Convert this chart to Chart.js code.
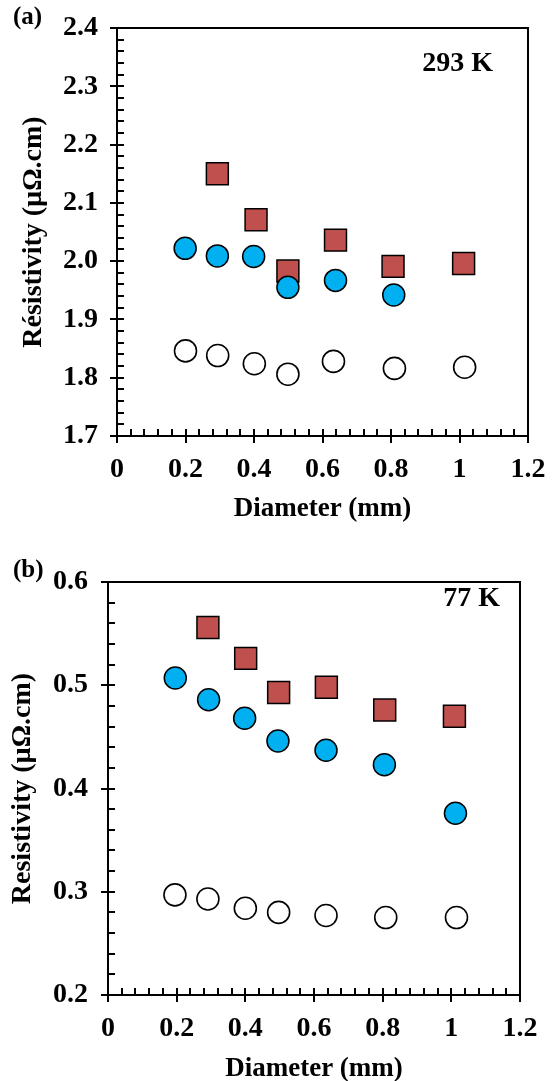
<!DOCTYPE html>
<html>
<head>
<meta charset="utf-8">
<script src="https://cdn.jsdelivr.net/npm/chart.js@4/dist/chart.umd.min.js"></script>
<style>
  html, body { margin: 0; padding: 0; background: #fff; }
  .wrap { position: absolute; left: 0; width: 553px; }
  canvas { display: block; }
</style>
</head>
<body>
<div class="wrap" style="top:0;height:540px"><canvas id="chartA"></canvas></div>
<div class="wrap" style="top:540px;height:541px"><canvas id="chartB"></canvas></div>
<script>
// ---------- Data: panel (a) 293 K ----------
const a_sq_x   = [0.293, 0.406, 0.499, 0.638, 0.806, 1.012];
const a_sq_y   = [2.150, 2.071, 1.983, 2.036, 1.991, 1.996];
const a_fill_x = [0.199, 0.293, 0.399, 0.499, 0.638, 0.808];
const a_fill_y = [2.022, 2.009, 2.008, 1.955, 1.967, 1.942];
const a_open_x = [0.200, 0.294, 0.401, 0.499, 0.632, 0.810, 1.015];
const a_open_y = [1.846, 1.838, 1.824, 1.806, 1.828, 1.816, 1.818];

// ---------- Data: panel (b) 77 K ----------
const b_sq_x   = [0.291, 0.401, 0.497, 0.636, 0.806, 1.009];
const b_sq_y   = [0.556, 0.526, 0.493, 0.498, 0.476, 0.470];
const b_fill_x = [0.196, 0.293, 0.398, 0.495, 0.635, 0.805, 1.012];
const b_fill_y = [0.507, 0.486, 0.468, 0.446, 0.437, 0.423, 0.376];
const b_open_x = [0.195, 0.291, 0.400, 0.497, 0.635, 0.809, 1.015];
const b_open_y = [0.297, 0.293, 0.284, 0.280, 0.277, 0.275, 0.275];

// ---------- Tick labels ----------
const xTickValues = [0, 0.2, 0.4, 0.6, 0.8, 1.0, 1.2];
const xTickLabels = ['0', '0.2', '0.4', '0.6', '0.8', '1', '1.2'];
const aYTickValues = [1.7, 1.8, 1.9, 2.0, 2.1, 2.2, 2.3, 2.4];
const aYTickLabels = ['1.7', '1.8', '1.9', '2.0', '2.1', '2.2', '2.3', '2.4'];
const bYTickValues = [0.2, 0.3, 0.4, 0.5, 0.6];
const bYTickLabels = ['0.2', '0.3', '0.4', '0.5', '0.6'];

const xTitle = 'Diameter (mm)';
const aYTitle = 'Résistivity (µΩ.cm)';
const bYTitle = 'Resistivity (µΩ.cm)';

// ---------- Styling ----------
const FONT = "'Liberation Serif', 'Times New Roman', serif";
const RED = '#C0504D';
const BLUE = '#00B0F0';

function pts(xs, ys) { return xs.map((x, i) => ({ x: x, y: ys[i] })); }

function labelFor(values, labels) {
  return function (v) {
    for (let i = 0; i < values.length; i++) {
      if (Math.abs(v - values[i]) < 1e-6) return labels[i];
    }
    return '';
  };
}

function datasets(fx, fy, sx, sy, ox, oy) {
  return [
    { data: pts(fx, fy), pointStyle: 'circle', pointRadius: 11, backgroundColor: BLUE, borderColor: '#000', borderWidth: 1.5 },
    { data: pts(sx, sy), pointStyle: 'rect', pointRadius: 15.5, backgroundColor: RED, borderColor: '#000', borderWidth: 1.5 },
    { data: pts(ox, oy), pointStyle: 'circle', pointRadius: 11, backgroundColor: '#fff', borderColor: '#000', borderWidth: 1.6 }
  ];
}

const framePlugin = {
  id: 'frameTicks',
  beforeDatasetsDraw(chart) {
    const { ctx, chartArea: ca } = chart;
    const xs = chart.scales.x, ys = chart.scales.y;
    ctx.save();
    ctx.strokeStyle = '#000';
    ctx.lineWidth = 2;
    ctx.strokeRect(ca.left, ca.top, ca.right - ca.left, ca.bottom - ca.top);
    ctx.beginPath();
    xs.ticks.forEach(t => {
      const px = Math.round(xs.getPixelForValue(t.value));
      const major = t.label !== '';
      ctx.moveTo(px, ca.bottom + (major ? 7 : 0));
      ctx.lineTo(px, ca.bottom - 7);
    });
    ys.ticks.forEach(t => {
      const py = Math.round(ys.getPixelForValue(t.value));
      const major = t.label !== '';
      ctx.moveTo(ca.left - (major ? 7 : 0), py);
      ctx.lineTo(ca.left + 7, py);
    });
    ctx.stroke();
    ctx.restore();
  }
};

function textPlugin(items) {
  return {
    id: 'panelText',
    afterDraw(chart) {
      const { ctx, chartArea: ca } = chart;
      ctx.save();
      ctx.fillStyle = '#000';
      ctx.textBaseline = 'middle';
      items.forEach(it => {
        ctx.font = 'bold ' + it.size + 'px ' + FONT;
        ctx.textAlign = it.align;
        const p = it.pos(ca);
        ctx.fillText(it.text, p.x, p.y);
      });
      ctx.restore();
    }
  };
}

function makeChart(id, cfg) {
  return new Chart(document.getElementById(id), {
    type: 'scatter',
    data: { datasets: cfg.datasets },
    options: {
      responsive: true,
      maintainAspectRatio: false,
      animation: false,
      events: [],
      layout: { padding: cfg.padding },
      plugins: { legend: { display: false }, tooltip: { enabled: false } },
      scales: {
        x: {
          type: 'linear', min: 0, max: 1.2,
          grid: { display: false, drawTicks: false },
          border: { display: false },
          ticks: {
            stepSize: 0.04, autoSkip: false, maxRotation: 0, minRotation: 0,
            padding: 17, color: '#000',
            font: { family: FONT, size: 28, weight: 'bold' },
            callback: labelFor(xTickValues, xTickLabels)
          },
          title: {
            display: true, text: xTitle, color: '#000',
            font: { family: FONT, size: 27, weight: 'bold' },
            padding: { top: 0, bottom: cfg.xTitlePad }
          },
          afterFit(s) { s.height = cfg.xHeight; s.paddingLeft = 0; s.paddingRight = 0; }
        },
        y: {
          type: 'linear', min: cfg.yMin, max: cfg.yMax,
          grid: { display: false, drawTicks: false },
          border: { display: false },
          ticks: {
            stepSize: 0.02, autoSkip: false,
            padding: cfg.yTickPad, color: '#000',
            font: { family: FONT, size: 28, weight: 'bold' },
            callback: labelFor(cfg.yVals, cfg.yLabels)
          },
          title: {
            display: true, text: cfg.yTitle, color: '#000',
            font: { family: FONT, size: 28, weight: 'bold' },
            padding: { top: cfg.yTitlePad, bottom: 0 }
          },
          afterFit(s) { s.width = cfg.yWidth; s.paddingTop = 0; s.paddingBottom = 0; }
        }
      }
    },
    plugins: [framePlugin, textPlugin(cfg.texts)]
  });
}

makeChart('chartA', {
  datasets: datasets(a_fill_x, a_fill_y, a_sq_x, a_sq_y, a_open_x, a_open_y),
  padding: { left: 0, right: 25, top: 28, bottom: 0 },
  xHeight: 104, xTitlePad: 15,
  yWidth: 117, yTickPad: 19, yTitlePad: 17,
  yMin: 1.7, yMax: 2.4, yVals: aYTickValues, yLabels: aYTickLabels, yTitle: aYTitle,
  texts: [
    { text: '(a)', size: 25, align: 'left', pos: ca => ({ x: 13, y: 18 }) },
    { text: '293 K', size: 28, align: 'right', pos: ca => ({ x: ca.right - 35, y: ca.top + 36 }) }
  ]
});

makeChart('chartB', {
  datasets: datasets(b_fill_x, b_fill_y, b_sq_x, b_sq_y, b_open_x, b_open_y),
  padding: { left: 0, right: 33, top: 42, bottom: 0 },
  xHeight: 86, xTitlePad: -4,
  yWidth: 108, yTickPad: 20, yTitlePad: 6,
  yMin: 0.2, yMax: 0.6, yVals: bYTickValues, yLabels: bYTickLabels, yTitle: bYTitle,
  texts: [
    { text: '(b)', size: 25, align: 'left', pos: ca => ({ x: 13, y: 31 }) },
    { text: '77 K', size: 28, align: 'right', pos: ca => ({ x: ca.right - 20, y: ca.top + 17 }) }
  ]
});
</script>
</body>
</html>
